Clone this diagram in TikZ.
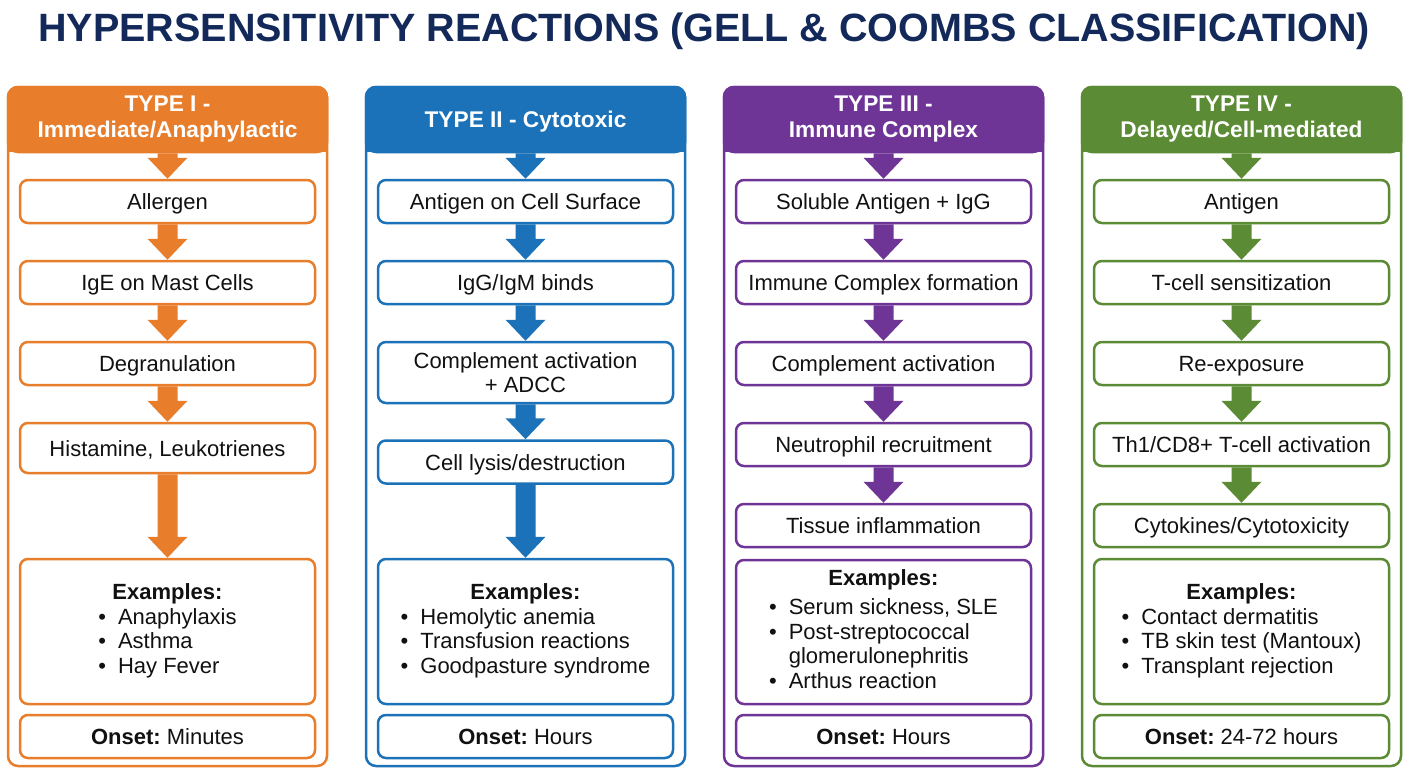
\documentclass[tikz,border=0pt]{standalone}
\usepackage{fontspec}
\setmainfont{Liberation Sans}
\usetikzlibrary{calc}
\frenchspacing
\definecolor{cOr}{HTML}{E87E2C}
\definecolor{cBl}{HTML}{1B72B8}
\definecolor{cPu}{HTML}{6E3597}
\definecolor{cGr}{HTML}{5B8B34}
\definecolor{cTitle}{HTML}{12295A}
\definecolor{txt}{HTML}{111111}
\newcommand\bodyfnt{\fontsize{22}{24.5}\selectfont\frenchspacing}
\newcommand\hdrfnt{\fontsize{22.7}{26}\selectfont\bfseries}
\newcommand\titlefnt{\fontsize{39.5}{44}\selectfont\bfseries}
\newcommand\flowarrow[3]{%
  \fill[#3] ($(#1.south)+(-10,0)$) -- ($(#2.north)+(-10,-21)$) -- ($(#2.north)+(-20,-21)$) -- (#2.north)
    -- ($(#2.north)+(20,-21)$) -- ($(#2.north)+(10,-21)$) -- ($(#1.south)+(10,0)$) -- cycle;}
\tikzset{
  frame/.style={draw=#1, line width=2.5pt, rounded corners=10pt, minimum width=319pt, minimum height=679pt, inner sep=0pt},
  hdr/.style={fill=#1, draw=#1, line width=2.5pt, rounded corners=10pt, minimum width=319pt, minimum height=65pt,
    text=white, font=\hdrfnt, align=center, inner sep=0pt},
  boxbase/.style={draw=#1, fill=white, line width=2.5pt, rounded corners=8pt, minimum width=295pt,
    minimum height=43pt, font=\bodyfnt, align=center, inner sep=0pt, text=txt},
  stepbox/.style={boxbase=#1, text height=16pt, text depth=0pt},
  exbox/.style={boxbase=#1, minimum height=145pt},
}
\begin{document}
\begin{tikzpicture}[x=1pt,y=-1pt]
\useasboundingbox (0,0) rectangle (1408,768);
\fill[white] (0,0) rectangle (1408,768);
\def\cA{167.5}\def\cB{525.5}\def\cC{883.5}\def\cD{1241.5}

\node[text=cTitle, font=\titlefnt, text height=28.4pt, text depth=0pt, inner sep=0pt] (title) at (704,27.5)
  {HYPERSENSITIVITY REACTIONS (GELL \& COOMBS CLASSIFICATION)};

% ---------------- Column 1
\node[frame=cOr] (f1) at (\cA,426.5) {};
\fill[cOr] (8,120) rectangle (327,152);
\node[hdr=cOr] (h1) at (\cA,119.5) {TYPE I -\\Immediate/Anaphylactic};
\node[stepbox=cOr] (a1) at (\cA,201.5) {Allergen};
\node[stepbox=cOr] (a2) at (\cA,282.5) {IgE on Mast Cells};
\node[stepbox=cOr] (a3) at (\cA,363.5) {Degranulation};
\node[stepbox=cOr, minimum height=50pt] (a4) at (\cA,448) {Histamine, Leukotrienes};
\node[exbox=cOr] (ex1) at (\cA,631.5) {\begin{tabular}{@{}c@{\hspace{12pt}}l@{}}
  \multicolumn{2}{c}{\bfseries Examples:}\\
  \textbullet & Anaphylaxis\\ \textbullet & Asthma\\ \textbullet & Hay Fever\end{tabular}};
\node[stepbox=cOr] (on1) at (\cA,736.5) {\textbf{Onset:} Minutes};
\flowarrow{h1}{a1}{cOr}\flowarrow{a1}{a2}{cOr}\flowarrow{a2}{a3}{cOr}\flowarrow{a3}{a4}{cOr}\flowarrow{a4}{ex1}{cOr}

% ---------------- Column 2
\node[frame=cBl] (f2) at (\cB,426.5) {};
\fill[cBl] (366,120) rectangle (685,152);
\node[hdr=cBl, text depth=0pt] (h2) at (\cB,119.5) {TYPE II - Cytotoxic};
\node[stepbox=cBl] (b1) at (\cB,201.5) {Antigen on Cell Surface};
\node[stepbox=cBl] (b2) at (\cB,282.5) {IgG/IgM binds};
\node[boxbase=cBl, minimum height=61pt] (b3) at (\cB,372.5) {Complement activation\\+ ADCC};
\node[stepbox=cBl] (b4) at (\cB,462) {Cell lysis/destruction};
\node[exbox=cBl] (ex2) at (\cB,631.5) {\begin{tabular}{@{}c@{\hspace{12pt}}l@{}}
  \multicolumn{2}{c}{\bfseries Examples:}\\
  \textbullet & Hemolytic anemia\\ \textbullet & Transfusion reactions\\ \textbullet & Goodpasture syndrome\end{tabular}};
\node[stepbox=cBl] (on2) at (\cB,736.5) {\textbf{Onset:} Hours};
\flowarrow{h2}{b1}{cBl}\flowarrow{b1}{b2}{cBl}\flowarrow{b2}{b3}{cBl}\flowarrow{b3}{b4}{cBl}\flowarrow{b4}{ex2}{cBl}

% ---------------- Column 3
\node[frame=cPu] (f3) at (\cC,426.5) {};
\fill[cPu] (724,120) rectangle (1043,152);
\node[hdr=cPu] (h3) at (\cC,119.5) {TYPE III -\\Immune Complex};
\node[stepbox=cPu] (c1) at (\cC,201.5) {Soluble Antigen + IgG};
\node[stepbox=cPu] (c2) at (\cC,282.5) {Immune Complex formation};
\node[stepbox=cPu] (c3) at (\cC,363.5) {Complement activation};
\node[stepbox=cPu] (c4) at (\cC,444.5) {Neutrophil recruitment};
\node[stepbox=cPu] (c5) at (\cC,525.5) {Tissue inflammation};
\node[exbox=cPu, minimum height=144pt] (ex3) at (\cC,632) {\begin{tabular}{@{}c@{\hspace{12pt}}l@{}}
  \multicolumn{2}{c}{\bfseries Examples:}\\[5pt]
  \textbullet & Serum sickness, SLE\\ \textbullet & Post-streptococcal\\ & glomerulonephritis\\ \textbullet & Arthus reaction\end{tabular}};
\node[stepbox=cPu] (on3) at (\cC,736.5) {\textbf{Onset:} Hours};
\flowarrow{h3}{c1}{cPu}\flowarrow{c1}{c2}{cPu}\flowarrow{c2}{c3}{cPu}\flowarrow{c3}{c4}{cPu}\flowarrow{c4}{c5}{cPu}

% ---------------- Column 4
\node[frame=cGr] (f4) at (\cD,426.5) {};
\fill[cGr] (1082,120) rectangle (1401,152);
\node[hdr=cGr] (h4) at (\cD,119.5) {TYPE IV -\\Delayed/Cell-mediated};
\node[stepbox=cGr] (d1) at (\cD,201.5) {Antigen};
\node[stepbox=cGr] (d2) at (\cD,282.5) {T-cell sensitization};
\node[stepbox=cGr] (d3) at (\cD,363.5) {Re-exposure};
\node[stepbox=cGr] (d4) at (\cD,444.5) {Th1/CD8+ T-cell activation};
\node[stepbox=cGr] (d5) at (\cD,525.5) {Cytokines/Cytotoxicity};
\node[exbox=cGr] (ex4) at (\cD,631.5) {\begin{tabular}{@{}c@{\hspace{12pt}}l@{}}
  \multicolumn{2}{c}{\bfseries Examples:}\\
  \textbullet & Contact dermatitis\\ \textbullet & TB skin test (Mantoux)\\ \textbullet & Transplant rejection\end{tabular}};
\node[stepbox=cGr] (on4) at (\cD,736.5) {\textbf{Onset:} 24-72 hours};
\flowarrow{h4}{d1}{cGr}\flowarrow{d1}{d2}{cGr}\flowarrow{d2}{d3}{cGr}\flowarrow{d3}{d4}{cGr}\flowarrow{d4}{d5}{cGr}
\end{tikzpicture}
\end{document}
